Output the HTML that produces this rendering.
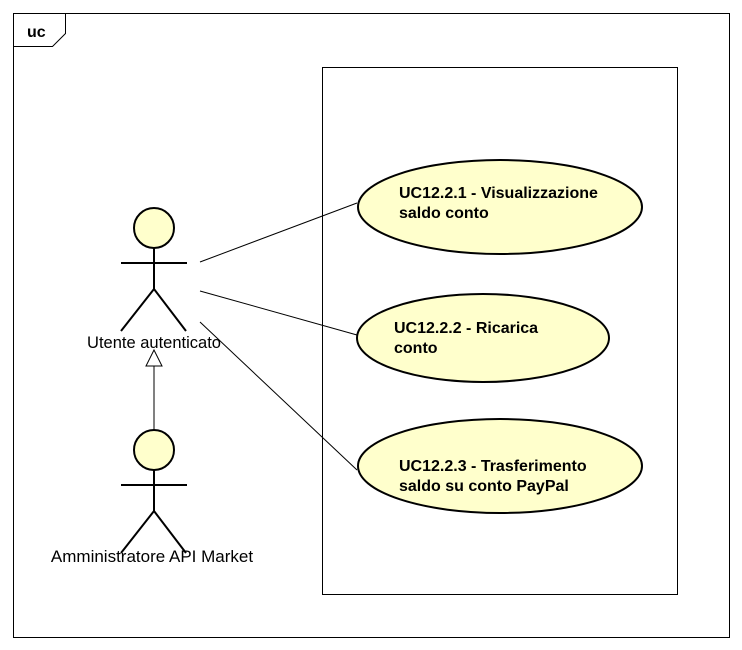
<!DOCTYPE html>
<html><head><style>body{margin:0;background:#fff}svg{display:block}</style></head>
<body>
<svg width="742" height="650" viewBox="0 0 742 650" xmlns="http://www.w3.org/2000/svg" font-family="Liberation Sans, Arial, sans-serif">
<rect x="13.5" y="13.5" width="716" height="624" fill="#fff" stroke="#000" stroke-width="1"/>
<path d="M13.5 46.5 H52.5 L65.5 33.5 V13.5" fill="none" stroke="#000"/>
<text x="27" y="37" font-size="16" font-weight="bold">uc</text>
<rect x="322.5" y="67.5" width="355" height="527" fill="#fff" stroke="#000"/>
<g stroke="#000" stroke-width="1">
<line x1="200" y1="262" x2="357" y2="203"/>
<line x1="200" y1="291" x2="357" y2="335"/>
<line x1="200" y1="322" x2="357" y2="470"/>
<line x1="154" y1="366" x2="154" y2="430"/>
</g>
<polygon points="154,350 146,366 162,366" fill="#fff" stroke="#000"/>
<g stroke="#000" stroke-width="2" fill="none">
<circle cx="154" cy="228" r="20" fill="#ffffcc"/>
<line x1="121" y1="263" x2="187" y2="263"/>
<line x1="154" y1="248" x2="154" y2="289"/>
<polyline points="121,331 154,289 186,331"/>
<circle cx="154" cy="450" r="20" fill="#ffffcc"/>
<line x1="121" y1="485" x2="187" y2="485"/>
<line x1="154" y1="470" x2="154" y2="511"/>
<polyline points="121,553 154,511 186,553"/>
</g>
<text x="154" y="348" font-size="16.5" text-anchor="middle">Utente autenticato</text>
<text x="152" y="562" font-size="17" text-anchor="middle">Amministratore API Market</text>
<g stroke="#000" stroke-width="2" fill="#ffffcc">
<ellipse cx="500" cy="207" rx="142" ry="47"/>
<ellipse cx="483" cy="338" rx="126" ry="44"/>
<ellipse cx="500" cy="466" rx="142" ry="47"/>
</g>
<g font-size="16" font-weight="bold">
<text x="399" y="198">UC12.2.1 - Visualizzazione</text>
<text x="399" y="218">saldo conto</text>
<text x="394" y="333">UC12.2.2 - Ricarica</text>
<text x="394" y="353">conto</text>
<text x="399" y="471">UC12.2.3 - Trasferimento</text>
<text x="399" y="491">saldo su conto PayPal</text>
</g>
</svg>
</body></html>
